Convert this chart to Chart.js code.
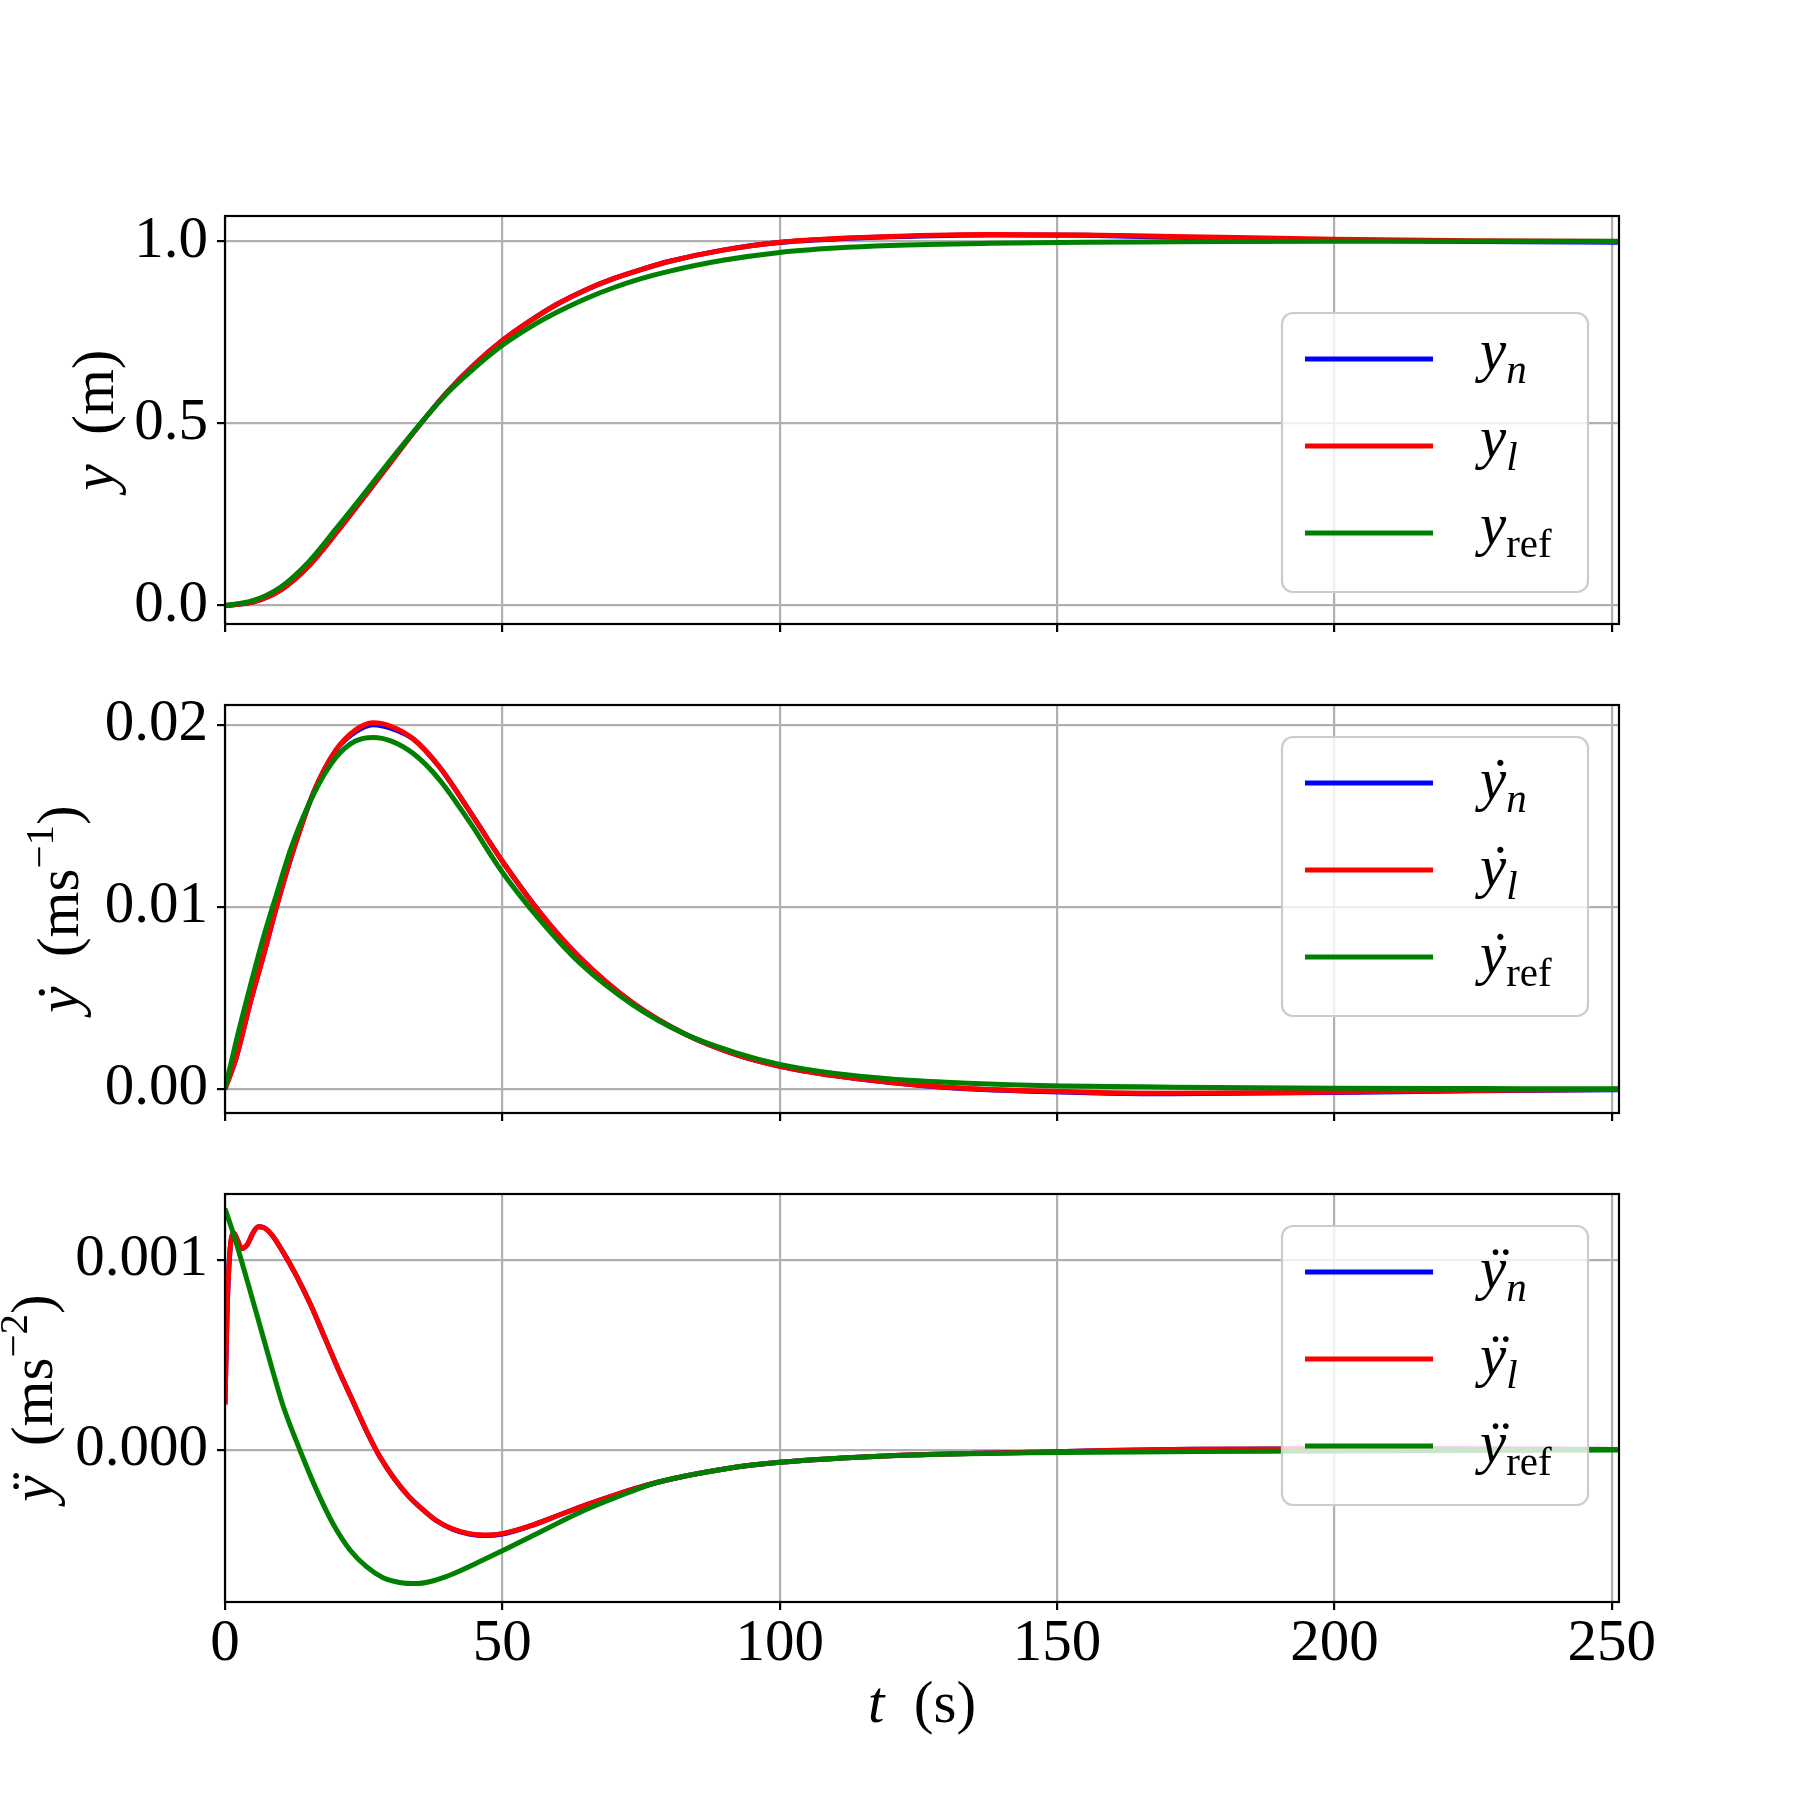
<!DOCTYPE html>
<html>
<head>
<meta charset="utf-8">
<script src="https://cdn.jsdelivr.net/npm/chart.js@4.4.1/dist/chart.umd.min.js"></script>
<style>
  body { margin: 0; background: #fff; }
  #fig { position: relative; width: 1800px; height: 1800px; background: #fff; }
  canvas { position: absolute; left: 0; }
</style>
</head>
<body>
<div id="fig">
  <canvas id="posChart" width="1800" height="458" style="top:196px"></canvas>
  <canvas id="velChart" width="1800" height="458" style="top:685px"></canvas>
  <canvas id="accChart" width="1800" height="626" style="top:1174px"></canvas>
</div>
<script>
// ---- data ----
// position panel
const tPos = [0, 5, 10, 15, 20, 25, 30, 35, 40, 45, 50, 55, 60, 65, 70, 75, 80, 90, 100, 110, 120, 138, 155, 171, 200, 225, 251.3];
const yN   = [0, 0.009, 0.042, 0.107, 0.198, 0.296, 0.396, 0.494, 0.585, 0.662, 0.727, 0.781, 0.828, 0.866, 0.897, 0.922, 0.944, 0.976, 0.996, 1.006, 1.012, 1.017, 1.016, 1.011, 1.003, 0.999, 0.997];
const yL   = [0, 0.009, 0.042, 0.107, 0.198, 0.296, 0.396, 0.494, 0.585, 0.662, 0.727, 0.781, 0.828, 0.866, 0.897, 0.922, 0.944, 0.976, 0.997, 1.007, 1.013, 1.018, 1.017, 1.013, 1.005, 1.001, 0.999];
const yRef = [0, 0.013, 0.050, 0.118, 0.210, 0.305, 0.402, 0.495, 0.582, 0.652, 0.714, 0.764, 0.806, 0.842, 0.872, 0.897, 0.917, 0.948, 0.969, 0.981, 0.988, 0.994, 0.997, 0.998, 1.000, 1.000, 1.000];

// velocity panel
const tVel = [0, 2, 4.6, 7, 9.2, 12, 16, 20, 23.5, 26.7, 30, 34, 38.6, 44, 50, 57, 64, 73.6, 83, 92, 100, 110, 120, 130, 145, 171, 200, 225, 251.3];
const vN   = [0, 0.0017, 0.0048, 0.0074, 0.0099, 0.0128, 0.0163, 0.0186, 0.0196, 0.0200, 0.0198, 0.0192, 0.0177, 0.0153, 0.0125, 0.0096, 0.0072, 0.0047, 0.0030, 0.0019, 0.00125, 0.00072, 0.00035, 0.00008, -0.00012, -0.00026, -0.00019, -0.0001, -0.00005];
const vL   = [0, 0.0017, 0.0048, 0.0074, 0.0099, 0.0128, 0.0163, 0.0186, 0.0197, 0.0201, 0.0199, 0.0192, 0.0177, 0.0153, 0.0125, 0.0096, 0.0072, 0.0047, 0.0030, 0.0019, 0.00125, 0.00072, 0.00036, 0.0001, -0.0001, -0.00024, -0.00017, -0.00008, -0.00002];
const vRef = [0, 0.0026, 0.0057, 0.0084, 0.0106, 0.0133, 0.0162, 0.0182, 0.0191, 0.0193, 0.0191, 0.0184, 0.0170, 0.0147, 0.0119, 0.0092, 0.0069, 0.0046, 0.0030, 0.0020, 0.00135, 0.00085, 0.00055, 0.00037, 0.0002, 0.0001, 0.00004, 0.00002, 0.00001];

// acceleration panel (n and l share time stamps, ref has its own)
const tAcc = [0, 0.4, 0.9, 1.6, 2.3, 3.0, 4.0, 5.0, 6.0, 7.0, 8.5, 10.5, 13, 15.5, 18, 20.5, 23, 25.5, 28, 30.5, 33, 35.5, 38, 41, 44, 47, 50, 55, 60, 65, 70, 78, 90, 100, 120, 145, 175, 210, 251.3];
const aN   = [0.00024, 0.00075, 0.00105, 0.00114, 0.00110, 0.00106, 0.00108, 0.00114, 0.001175, 0.00117, 0.00113, 0.00104, 0.00091, 0.00076, 0.00059, 0.00042, 0.00026, 0.0001, -0.00004, -0.00015, -0.00024, -0.00031, -0.00037, -0.000417, -0.000442, -0.00045, -0.000442, -0.0004, -0.000345, -0.00029, -0.00024, -0.00017, -0.0001, -0.000065, -0.00003, -0.000012, 0.000004, 0.000006, 0.000002];
const aL   = [0.00024, 0.00075, 0.00105, 0.00114, 0.00110, 0.00106, 0.00108, 0.00114, 0.001175, 0.00117, 0.00113, 0.00104, 0.00091, 0.00076, 0.00059, 0.00042, 0.00026, 0.0001, -0.00004, -0.00015, -0.00024, -0.00031, -0.00037, -0.000415, -0.00044, -0.000447, -0.00044, -0.0004, -0.000345, -0.00029, -0.00024, -0.00017, -0.0001, -0.000065, -0.00003, -0.000012, 0.000004, 0.000006, 0.000002];
const tAccRef = [0, 1.6, 4.5, 7.5, 10.5, 13.5, 16.5, 19.5, 22.5, 25.5, 28.5, 31.5, 34.6, 37.6, 40.6, 46.6, 50, 55, 60, 65, 70, 78, 90, 100, 120, 145, 175, 210, 251.3];
const aRef = [0.00127, 0.00113, 0.00084, 0.00053, 0.00023, 0.0, -0.00021, -0.00039, -0.000525, -0.000614, -0.000672, -0.000697, -0.000703, -0.000688, -0.000658, -0.000578, -0.00053, -0.000458, -0.000385, -0.000315, -0.000255, -0.00017, -0.0001, -0.000065, -0.00003, -0.000015, -0.000008, -0.000004, 0];

// ticks and series
const xTicks = [0, 50, 100, 150, 200, 250];
const posTicks = [0, 0.5, 1.0];
const velTicks = [0, 0.01, 0.02];
const accTicks = [0, 0.001];
const seriesNames = ['n', 'l', 'ref'];
const seriesColors = ['#0000ff', '#ff0000', '#008000'];

// ---- styling ----
const FONT = '"Liberation Serif", "DejaVu Serif", serif';
const FS = 59;
const LW = 5;
const GRID = '#b0b0b0';

function fontFor(p) {
  const size = (p.sub || p.sup) ? Math.round(FS * 0.7) : FS;
  return (p.it ? 'italic ' : '') + size + 'px ' + FONT;
}

function textWidth(ctx, parts) {
  let w = 0;
  parts.forEach(p => { ctx.font = fontFor(p); w += ctx.measureText(p.t).width; });
  return w;
}

// draw a run of text pieces (italic / sub / sup / accent) from a baseline point
function drawParts(ctx, parts, x, y) {
  parts.forEach(p => {
    ctx.font = fontFor(p);
    const dy = p.sub ? FS * 0.22 : p.sup ? -FS * 0.42 : 0;
    ctx.fillText(p.t, x, y + dy);
    const w = ctx.measureText(p.t).width;
    if (p.acc) {
      const aw = ctx.measureText(p.acc).width;
      ctx.fillText(p.acc, x + (w - aw) / 2 + FS * 0.06, y);
    }
    x += w;
  });
}

const dots = ['', '\u02D9', '\u00A8'];
function ySym(order) {
  return order ? { t: 'y', it: true, acc: dots[order] } : { t: 'y', it: true };
}
function legendParts(order, name) {
  return [ySym(order), name === 'ref' ? { t: 'ref', sub: true } : { t: name, sub: true, it: true }];
}

function pts(t, v) {
  return t.map((x, i) => ({ x: x, y: v[i] }));
}

function decor(opts) {
  return {
    id: 'decor',
    afterDatasetsDraw(chart) {
      const { ctx, chartArea: a } = chart;
      ctx.save();
      ctx.strokeStyle = '#000';
      ctx.lineWidth = 2.2;
      ctx.strokeRect(a.left, a.top, a.right - a.left, a.bottom - a.top);
      ctx.restore();
    },
    afterDraw(chart) {
      const { ctx, chartArea: a } = chart;
      ctx.save();
      ctx.fillStyle = '#000';
      ctx.textBaseline = 'alphabetic';
      ctx.textAlign = 'left';

      // y axis label, rotated
      const w = textWidth(ctx, opts.yLabel);
      ctx.save();
      ctx.translate(opts.yLabelX, (a.top + a.bottom) / 2);
      ctx.rotate(-Math.PI / 2);
      drawParts(ctx, opts.yLabel, -w / 2, 0);
      ctx.restore();

      // legend box
      const bx = a.left + 1057, by = a.top + opts.legendTop, bw = 306, bh = 279;
      ctx.beginPath();
      ctx.roundRect(bx, by, bw, bh, 11);
      ctx.fillStyle = 'rgba(255,255,255,0.8)';
      ctx.fill();
      ctx.strokeStyle = '#cccccc';
      ctx.lineWidth = 2.2;
      ctx.stroke();
      chart.data.datasets.forEach((ds, i) => {
        const ry = by + 46 + i * 87;
        ctx.strokeStyle = ds.borderColor;
        ctx.lineWidth = LW;
        ctx.beginPath();
        ctx.moveTo(bx + 23, ry);
        ctx.lineTo(bx + 151, ry);
        ctx.stroke();
        ctx.fillStyle = '#000';
        drawParts(ctx, legendParts(opts.order, seriesNames[i]), bx + 198, ry + opts.legendShift);
      });

      // x axis label (bottom panel only)
      if (opts.xLabel) {
        const xw = textWidth(ctx, opts.xLabel);
        drawParts(ctx, opts.xLabel, (a.left + a.right) / 2 - xw / 2, a.bottom + 120);
      }
      ctx.restore();
    }
  };
}

function makePanel(id, opts) {
  const series = [[opts.tn, opts.n], [opts.tn, opts.l], [opts.tr, opts.ref]];
  const datasets = series.map((s, i) => ({
    label: seriesNames[i],
    data: pts(s[0], s[1]),
    borderColor: seriesColors[i],
    borderWidth: LW,
    pointRadius: 0,
    fill: false,
    order: 2 - i,   // ref on top, n underneath
    cubicInterpolationMode: 'monotone'
  }));

  return new Chart(document.getElementById(id), {
    type: 'line',
    data: { datasets },
    options: {
      animation: false,
      responsive: false,
      layout: { padding: { top: 20, right: 181, left: 0, bottom: 0 } },
      plugins: { legend: { display: false }, tooltip: { enabled: false } },
      scales: {
        x: {
          type: 'linear',
          min: 0,
          max: 251.3,
          afterBuildTicks: ax => { ax.ticks = xTicks.map(v => ({ value: v })); },
          afterFit: ax => { ax.height = opts.xHeight; ax.paddingLeft = 0; ax.paddingRight = 0; },
          border: { display: false },
          grid: { color: GRID, lineWidth: 2.2, tickLength: 8, tickColor: '#000', tickWidth: 2.2 },
          ticks: {
            display: opts.showX,
            maxRotation: 0,
            padding: -1,
            color: '#000',
            font: { family: FONT, size: FS }
          }
        },
        y: {
          min: opts.yMin,
          max: opts.yMax,
          afterBuildTicks: ax => { ax.ticks = opts.yTicks.map(v => ({ value: v })); },
          afterFit: ax => { ax.width = 225; ax.paddingTop = 0; ax.paddingBottom = 0; },
          border: { display: false },
          grid: { color: GRID, lineWidth: 2.2, tickLength: 8, tickColor: '#000', tickWidth: 2.2 },
          ticks: {
            padding: 9,
            color: '#000',
            font: { family: FONT, size: FS },
            callback: v => v.toFixed(opts.decimals)
          }
        }
      }
    },
    plugins: [decor(opts)]
  });
}

makePanel('posChart', {
  tn: tPos, tr: tPos, n: yN, l: yL, ref: yRef,
  yMin: -0.051, yMax: 1.069, yTicks: posTicks, decimals: 1,
  showX: false, xHeight: 30, order: 0,
  yLabel: [ySym(0), { t: '  (m)' }], yLabelX: 113,
  legendTop: 97, legendShift: 11
});

makePanel('velChart', {
  tn: tVel, tr: tVel, n: vN, l: vL, ref: vRef,
  yMin: -0.00132, yMax: 0.02108, yTicks: velTicks, decimals: 2,
  showX: false, xHeight: 30, order: 1,
  yLabel: [ySym(1), { t: '  (ms' }, { t: '\u22121', sup: true }, { t: ')' }], yLabelX: 78,
  legendTop: 32, legendShift: 16
});

makePanel('accChart', {
  tn: tAcc, tr: tAccRef, n: aN, l: aL, ref: aRef,
  yMin: -0.0008, yMax: 0.001347, yTicks: accTicks, decimals: 3,
  showX: true, xHeight: 198, order: 2,
  yLabel: [ySym(2), { t: '  (ms' }, { t: '\u22122', sup: true }, { t: ')' }], yLabelX: 52,
  xLabel: [{ t: 't', it: true }, { t: '  (s)' }],
  legendTop: 32, legendShift: 16
});
</script>
</body>
</html>
